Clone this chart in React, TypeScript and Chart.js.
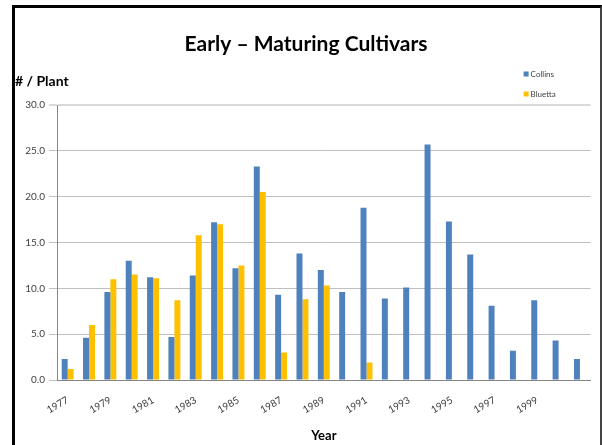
import React, { useEffect, useRef } from 'react';
import { Chart, registerables } from 'chart.js';

Chart.register(...registerables);

const years = [
  '1977', '1978', '1979', '1980', '1981', '1982', '1983', '1984', '1985',
  '1986', '1987', '1988', '1989', '1990', '1991', '1992', '1993', '1994',
  '1995', '1996', '1997', '1998', '1999', '2000', '2001',
];

const collins = [
  2.3, 4.6, 9.6, 13.0, 11.2, 4.7, 11.4, 17.2, 12.2, 23.3, 9.3, 13.8, 12.0,
  9.6, 18.8, 8.9, 10.1, 25.7, 17.3, 13.7, 8.1, 3.2, 8.7, 4.3, 2.3,
];

const bluetta = [
  1.2, 6.0, 11.0, 11.5, 11.1, 8.7, 15.8, 17.0, 12.5, 20.5, 3.0, 8.8, 10.3,
  null, 1.9, null, null, null, null, null, null, null, null, null, null,
];

const shownYearLabels = [
  '1977', '1979', '1981', '1983', '1985', '1987', '1989', '1991', '1993',
  '1995', '1997', '1999',
];

const yTicks = [0, 5, 10, 15, 20, 25, 30];

const FONT = 'Lato, "Open Sans", sans-serif';

const topLegend = {
  id: 'topLegend',
  afterDraw(chart: any) {
    const { ctx, chartArea } = chart;
    ctx.save();
    ctx.font = `8px ${FONT}`;
    ctx.textBaseline = 'middle';
    ctx.textAlign = 'left';
    chart.data.datasets.forEach((ds: any, i: number) => {
      const y = chartArea.top - 31 + i * 20;
      const x = chartArea.right - 67;
      ctx.fillStyle = ds.backgroundColor;
      ctx.fillRect(x, y - 2.5, 5, 5);
      ctx.fillStyle = '#404040';
      ctx.fillText(ds.label, x + 7, y);
    });
    ctx.restore();
  },
};

export default function App() {
  const ref = useRef<HTMLCanvasElement>(null);

  useEffect(() => {
    document.body.style.overflow = 'hidden';
    const chart = new Chart(ref.current!, {
      type: 'bar',
      data: {
        labels: years,
        datasets: [
          {
            label: 'Collins',
            data: collins,
            backgroundColor: '#4F81BD',
            categoryPercentage: 0.56,
            barPercentage: 1.0,
          },
          {
            label: 'Bluetta',
            data: bluetta,
            backgroundColor: '#FFC000',
            categoryPercentage: 0.56,
            barPercentage: 1.0,
          },
        ],
      },
      plugins: [topLegend],
      options: {
        animation: false,
        responsive: true,
        maintainAspectRatio: false,
        layout: { padding: { left: 0, right: 3, top: 0, bottom: 0 } },
        plugins: {
          legend: { display: false },
          tooltip: { enabled: false },
          title: {
            display: true,
            text: 'Early – Maturing Cultivars',
            color: '#000',
            font: { family: FONT, size: 21, weight: 'bold', lineHeight: 1.2 },
            padding: { top: 24, bottom: 8 },
          },
          subtitle: {
            display: true,
            text: '# / Plant',
            align: 'start',
            color: '#000',
            font: { family: FONT, size: 14, weight: 'bold', lineHeight: 1.2 },
            padding: { top: 8, bottom: 15 },
          },
        },
        scales: {
          x: {
            grid: { display: false, drawTicks: false },
            border: { display: true, color: '#868686', width: 1 },
            ticks: {
              autoSkip: false,
              minRotation: 30,
              maxRotation: 30,
              padding: 14,
              color: '#404040',
              font: { family: FONT, size: 10 },
              callback: (_v: any, idx: number) =>
                shownYearLabels.includes(years[idx]) ? years[idx] : '',
            },
            title: {
              display: true,
              text: 'Year',
              color: '#000',
              font: { family: FONT, size: 13, weight: 'bold', lineHeight: 1.2 },
              padding: { top: 4, bottom: 1 },
            },
            afterFit: (scale: any) => {
              scale.height = 65;
            },
          },
          y: {
            min: 0,
            max: 30,
            afterBuildTicks: (scale: any) => {
              scale.ticks = yTicks.map((v) => ({ value: v }));
            },
            grid: {
              color: (c: any) => (c.tick && c.tick.value === 30 ? '#d9d9d9' : '#bfbfbf'),
              lineWidth: (c: any) => (c.tick && c.tick.value === 30 ? 2 : 1),
              tickLength: 8,
            },
            border: { display: true, color: '#868686', width: 1 },
            ticks: {
              padding: 4,
              color: '#404040',
              font: { family: FONT, size: 10 },
              callback: (v: any) => Number(v).toFixed(1),
            },
            afterFit: (scale: any) => {
              scale.width = 42;
            },
          },
        },
      },
    } as any);
    return () => chart.destroy();
  }, []);

  return (
    <div
      style={{
        position: 'absolute',
        left: 12,
        top: 5,
        width: 585,
        height: 437,
        borderLeft: '3px solid #000',
        borderTop: '3px solid #000',
        borderRight: '2px solid #444',
        background: '#fff',
      }}
    >
      <div style={{ position: 'relative', width: 585, height: 437 }}>
        <canvas ref={ref} />
      </div>
    </div>
  );
}
